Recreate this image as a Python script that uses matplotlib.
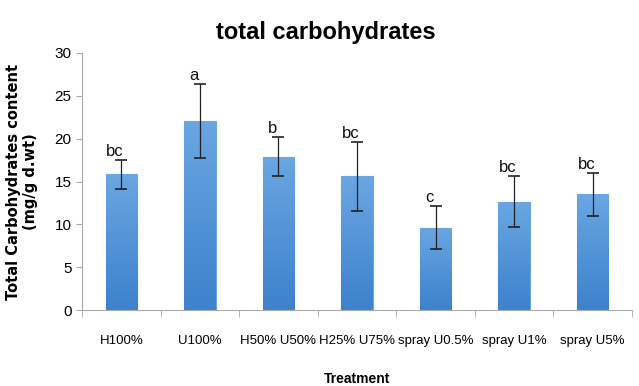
import numpy as np
import matplotlib
matplotlib.use('Agg')
import matplotlib.pyplot as plt
from matplotlib import font_manager
from matplotlib.colors import LinearSegmentedColormap

# Data
treatments = ['H100%', 'U100%', 'H50% U50%', 'H25% U75%', 'spray U0.5%', 'spray U1%', 'spray U5%']
means = [15.85, 22.1, 17.9, 15.6, 9.6, 12.65, 13.5]
errors = [1.7, 4.3, 2.3, 4.0, 2.5, 3.0, 2.5]
letters = ['bc', 'a', 'b', 'bc', 'c', 'bc', 'bc']

names = {f.name for f in font_manager.fontManager.ttflist}
narrow = 'Liberation Sans Narrow' if 'Liberation Sans Narrow' in names else 'Liberation Sans'

fig = plt.figure(figsize=(6.39, 3.86), dpi=100)
ax = fig.add_axes([82 / 639, 1 - 310 / 386, 550 / 639, 257 / 386])

x = np.arange(len(treatments))
bars = ax.bar(x, means, width=0.4, color='#4d8fd6', edgecolor='#6aa6e2', linewidth=0.8, zorder=2)

# vertical gradient inside each bar, lighter at the top
grad = LinearSegmentedColormap.from_list('blu', ['#3d82cc', '#6aa6e2'])
for b in bars:
    x0, y0 = b.get_x(), b.get_y()
    w, h = b.get_width(), b.get_height()
    im = ax.imshow(np.linspace(1, 0, 100).reshape(-1, 1), cmap=grad, aspect='auto',
                   extent=[x0, x0 + w, y0, y0 + h], zorder=2.5)
    im.set_clip_path(b)

ax.errorbar(x, means, yerr=errors, fmt='none', ecolor='#222222', elinewidth=0.9,
            capsize=4, capthick=1.2, zorder=3)

for xi, m, e, lab in zip(x, means, errors, letters):
    ax.text(xi - 0.08, m + e + 0.1, lab, ha='center', va='bottom',
            fontsize=12, family=narrow, color='#111111')

ax.set_xlim(-0.5, len(treatments) - 0.5)
ax.set_ylim(0, 30)
ax.set_yticks(range(0, 31, 5))
ax.set_xticks(x)
ax.set_xticklabels(treatments, family=narrow, fontsize=9.5)
ax.set_xticks(np.arange(-0.5, len(treatments), 1), minor=True)
ax.tick_params(axis='x', which='major', length=0, pad=18)
ax.tick_params(axis='x', which='minor', length=5, color='#aaaaaa')
ax.tick_params(axis='y', length=4, color='#aaaaaa', labelsize=11)
for t in ax.get_yticklabels():
    t.set_family(narrow)

for s in ['top', 'right']:
    ax.spines[s].set_visible(False)
ax.spines['left'].set_color('#aaaaaa')
ax.spines['bottom'].set_color('#aaaaaa')

fig.text(0.51, 0.915, 'total carbohydrates', ha='center', va='center',
         fontsize=17, fontweight='bold', family=narrow)
ax.set_ylabel('Total Carbohydrates content\n(mg/g d.wt)', fontsize=10.5,
              fontweight='bold', family='DejaVu Sans', labelpad=12, linespacing=1.15)
ax.set_xlabel('Treatment', family=narrow, fontsize=10, fontweight='bold', labelpad=18)

fig.savefig('out.png', dpi=100)
